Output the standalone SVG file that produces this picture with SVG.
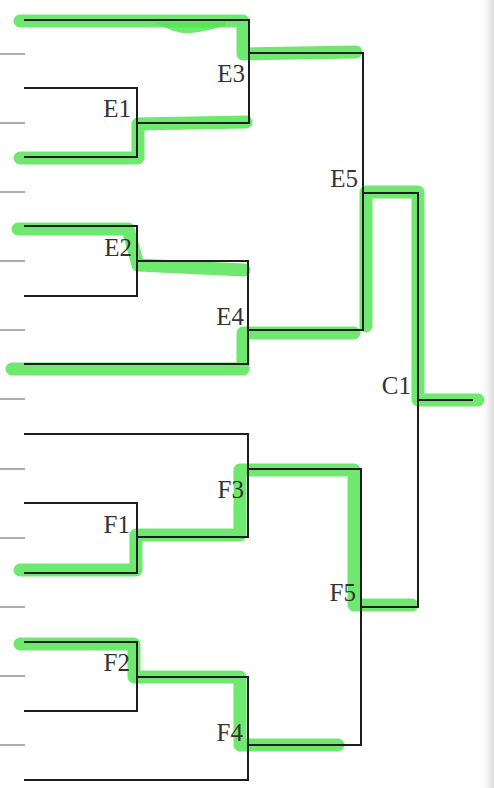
<svg xmlns="http://www.w3.org/2000/svg" width="494" height="788" viewBox="0 0 494 788">
<style>
.hl{fill:none;stroke:#55e455;stroke-opacity:0.85;stroke-width:13;stroke-linecap:round;stroke-linejoin:round}
.hb{fill:#55e455;fill-opacity:0.85}
.ln{fill:none;stroke:#1e1e1e;stroke-width:2;stroke-linecap:square}
.tk{stroke:#8a8a8a;stroke-width:1.4}
.lb{font-family:"Liberation Serif","DejaVu Serif",serif;font-size:25px;fill:#333;text-anchor:end}
</style>
<defs>
<linearGradient id="edge" x1="0" y1="0" x2="1" y2="0">
<stop offset="0" stop-color="#ffffff" stop-opacity="0"/>
<stop offset="1" stop-color="#dcdcdc"/>
</linearGradient>
</defs>
<rect width="494" height="788" fill="#ffffff"/>
<rect x="478" y="0" width="16" height="788" fill="url(#edge)"/>
<g id="highlights">
<path class="hl" d="M20 21 L243 21 L243 54 L356 52"/>
<path class="hb" d="M150 22 C165 24 170 34 190 33 C205 32 215 28 225 26 L225 22 Z"/>
<path class="hl" d="M20 158 L138 158 L138 124 L246 122"/>
<path class="hl" d="M18 229 L128 229 L138 265 L244 270"/>
<path class="hl" d="M12 369 L243 369 L243 333 L354 333"/>
<path class="hl" d="M366 326 L366 192 L418 192 L418 400 L478 400"/>
<path class="hl" d="M20 570 L136 570 L136 535 L240 535 L240 470 L354 470 L354 605 L412 605"/>
<path class="hl" d="M20 644 L134 644 L134 677 L240 677 L240 745 L338 745"/>
</g>
<g id="ticks">
<line class="tk" x1="0" y1="54" x2="25" y2="54"/>
<line class="tk" x1="0" y1="123" x2="25" y2="123"/>
<line class="tk" x1="0" y1="192" x2="25" y2="192"/>
<line class="tk" x1="0" y1="261" x2="25" y2="261"/>
<line class="tk" x1="0" y1="330" x2="25" y2="330"/>
<line class="tk" x1="0" y1="399" x2="25" y2="399"/>
<line class="tk" x1="0" y1="469" x2="25" y2="469"/>
<line class="tk" x1="0" y1="538" x2="25" y2="538"/>
<line class="tk" x1="0" y1="607" x2="25" y2="607"/>
<line class="tk" x1="0" y1="676" x2="25" y2="676"/>
<line class="tk" x1="0" y1="745" x2="25" y2="745"/>
</g>
<g id="connectors">
<path class="ln" d="M25 20 H249 V123"/>
<path class="ln" d="M25 88 H137 V157 H25"/>
<path class="ln" d="M137 123 H249"/>
<path class="ln" d="M249 53 H363 V330"/>
<path class="ln" d="M25 226 H137 V296 H25"/>
<path class="ln" d="M137 261 H248 V364 H25"/>
<path class="ln" d="M248 330 H363"/>
<path class="ln" d="M363 193 H418 V607"/>
<path class="ln" d="M418 400 H472"/>
<path class="ln" d="M25 434 H248 V537"/>
<path class="ln" d="M25 503 H137 V573 H25"/>
<path class="ln" d="M137 537 H248"/>
<path class="ln" d="M248 469 H361 V745"/>
<path class="ln" d="M25 642 H137 V711 H25"/>
<path class="ln" d="M137 677 H248 V780 H25"/>
<path class="ln" d="M248 745 H361"/>
<path class="ln" d="M361 607 H418"/>
</g>
<g id="E1"><text class="lb" x="131" y="117">E1</text></g>
<g id="E2"><text class="lb" x="132" y="256">E2</text></g>
<g id="E3"><text class="lb" x="245" y="82">E3</text></g>
<g id="E4"><text class="lb" x="244" y="325">E4</text></g>
<g id="E5"><text class="lb" x="358" y="187">E5</text></g>
<g id="C1"><text class="lb" x="411" y="394">C1</text></g>
<g id="F1"><text class="lb" x="130" y="533">F1</text></g>
<g id="F2"><text class="lb" x="130" y="671">F2</text></g>
<g id="F3"><text class="lb" x="244" y="498">F3</text></g>
<g id="F4"><text class="lb" x="243" y="741">F4</text></g>
<g id="F5"><text class="lb" x="356" y="601">F5</text></g>
</svg>
